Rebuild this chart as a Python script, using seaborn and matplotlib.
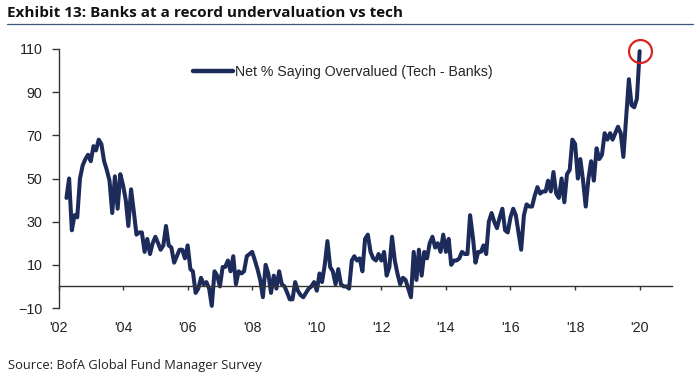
import pandas as pd
import numpy as np
import matplotlib.pyplot as plt
import matplotlib.dates as mdates
import seaborn as sns

# --- data: net % saying overvalued (tech - banks), monthly, Apr 2002 - Jan 2020 ---
vals_2002 = [41, 50, 26, 33, 32, 50, 56, 59, 61]
vals_2003 = [58, 65, 63, 68, 66, 58, 54, 49, 34, 51, 36, 52]
vals_2004 = [47, 40, 28, 45, 35, 24, 25, 25, 16, 22, 15, 20]
vals_2005 = [23, 20, 17, 19, 28, 19, 18, 11, 14, 17, 17, 13]
vals_2006 = [19, 8, 7, -3, -1, 4, 1, 2, -1, -9, 7, 5]
vals_2007 = [0, 9, 9, 12, 7, 14, 1, 7, 6, 7, 14, 15]
vals_2008 = [16, 12, 8, 3, -5, 10, 6, -3, 5, -1, 7, 1]
vals_2009 = [0, -3, -6, -6, 2, -2, -4, -5, -3, -1, 0, 2]
vals_2010 = [-2, 6, 2, 10, 21, 9, 7, 1, 8, 1, 0, 0]
vals_2011 = [-1, 12, 14, 12, 13, 7, 22, 24, 16, 13, 12, 15]
vals_2012 = [12, 16, 5, 9, 23, 12, 6, 1, 4, 3, -1, -5]
vals_2013 = [16, 3, 17, 5, 16, 13, 20, 23, 18, 20, 16, 24]
vals_2014 = [16, 22, 10, 12, 12, 13, 16, 15, 15, 33, 23, 11]
vals_2015 = [16, 16, 19, 15, 30, 34, 30, 27, 32, 36, 26, 25]
vals_2016 = [32, 36, 33, 25, 17, 33, 38, 37, 37, 42, 46, 43]
vals_2017 = [44, 44, 49, 44, 53, 43, 41, 50, 39, 52, 54, 68]
vals_2018 = [66, 50, 59, 49, 37, 50, 58, 49, 64, 59, 61, 71]
vals_2019 = [68, 71, 68, 71, 74, 71, 60, 78, 96, 84, 83, 87]
vals_2020 = [109]

year_ticks = [2002, 2004, 2006, 2008, 2010, 2012, 2014, 2016, 2018, 2020]
year_labels = ["'02", "'04", "'06", "'08", "'10", "'12", "'14", "'16", "'18", "'20"]
y_ticks = [-10, 10, 30, 50, 70, 90, 110]
series_name = 'Net % Saying Overvalued (Tech - Banks)'

values = (vals_2002 + vals_2003 + vals_2004 + vals_2005 + vals_2006 + vals_2007
          + vals_2008 + vals_2009 + vals_2010 + vals_2011 + vals_2012 + vals_2013
          + vals_2014 + vals_2015 + vals_2016 + vals_2017 + vals_2018 + vals_2019
          + vals_2020)
df = pd.DataFrame({
    'date': pd.date_range('2002-04-01', periods=len(values), freq='MS'),
    'value': values,
})

sns.set_theme(style='white')
plt.rcParams['font.family'] = ['Liberation Sans', 'DejaVu Sans']

navy = '#1c2b5a'
fig = plt.figure(figsize=(7, 3.77), dpi=100)
ax = fig.add_axes([58.5 / 700, 1 - 308 / 377, (672 - 58.5) / 700, (308 - 49) / 377])

sns.lineplot(data=df, x='date', y='value', ax=ax, color=navy, linewidth=2.9,
             label=series_name)

# red circle around the latest (record) reading
peak = df.iloc[-1]
ax.plot(peak['date'], peak['value'], marker='o', ms=16.5, mfc='none',
        mec='#d92323', mew=1.6, zorder=5, clip_on=False)

ax.set_ylim(-10, 110)
ax.set_xlim(pd.Timestamp('2002-01-01'), pd.Timestamp('2021-01-01'))
ax.set_yticks(y_ticks)
ax.set_xticks([pd.Timestamp(f'{y}-01-01') for y in year_ticks])
ax.set_xticklabels(year_labels)
ax.set_xlabel('')
ax.set_ylabel('')

# x axis drawn on the zero line, labels pushed down under -10
for side in ['top', 'right']:
    ax.spines[side].set_visible(False)
ax.spines['bottom'].set_position(('data', 0))
for side in ['left', 'bottom']:
    ax.spines[side].set_color('#333333')
    ax.spines[side].set_linewidth(1.0)
ax.tick_params(axis='x', direction='out', length=3, width=1, color='#333333',
               pad=22, labelsize=10.3, labelcolor='#222222', bottom=True)
ax.tick_params(axis='y', direction='out', length=5, width=1, color='#333333',
               pad=6.5, labelsize=10.3, labelcolor='#222222', left=True)

leg = ax.legend(loc='center left', bbox_to_anchor=(193 / 700, 1 - 72 / 377),
                bbox_transform=fig.transFigure, frameon=False, fontsize=10.2,
                handlelength=2.8, handletextpad=0.15, borderpad=0, borderaxespad=0)
for line in leg.get_lines():
    line.set_linewidth(3.2)

# title with rule underneath, source note at bottom
fig.text(7 / 700, 1 - 13 / 377, 'Exhibit 13: Banks at a record undervaluation vs tech',
         fontsize=11, fontweight='bold', family=['Open Sans', 'DejaVu Sans'],
         color='#111111', va='center', ha='left')
fig.add_artist(plt.Line2D([7 / 700, 693 / 700], [1 - 24 / 377, 1 - 24 / 377],
                          color='#3d5878', linewidth=0.9))
fig.text(8 / 700, 1 - 365 / 377, 'Source: BofA Global Fund Manager Survey',
         fontsize=9.3, family=['Open Sans', 'DejaVu Sans'], color='#222222',
         va='center', ha='left')

fig.savefig('out.png', dpi=100, facecolor='white')
